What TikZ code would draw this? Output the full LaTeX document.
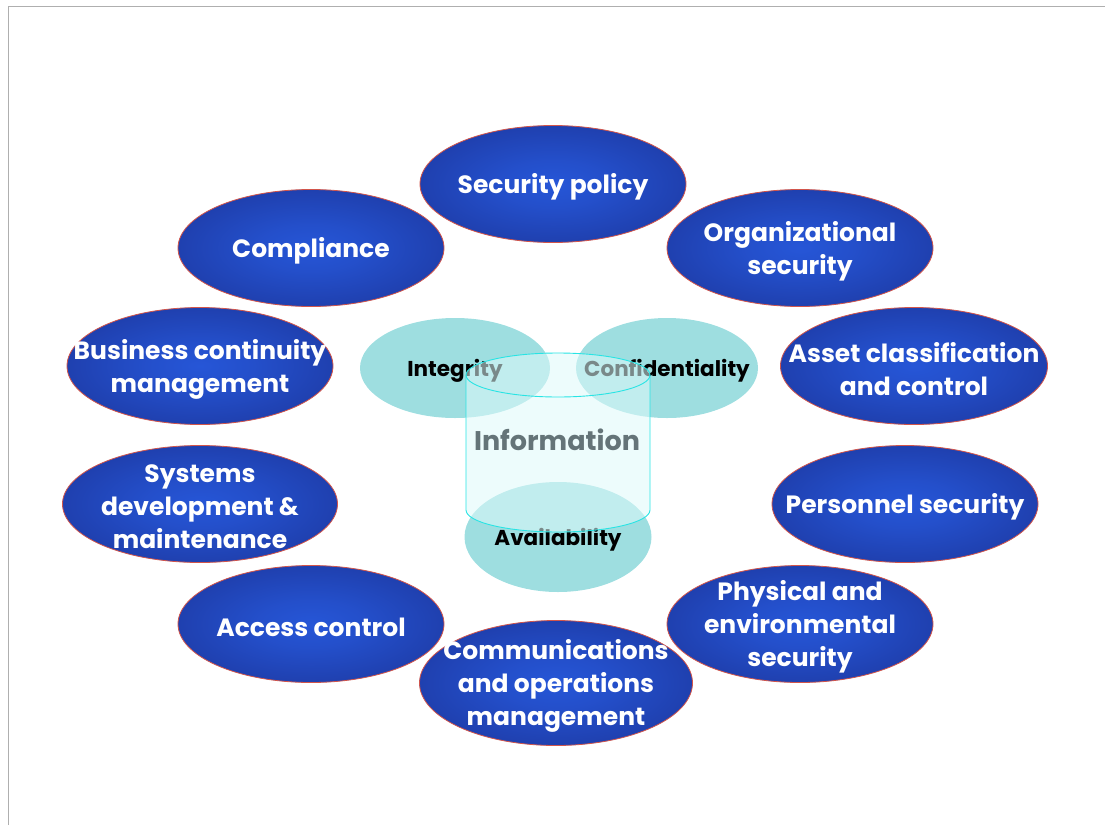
\documentclass[tikz,border=0pt]{standalone}
\usepackage{fontspec}
\setmainfont{Poppins}
\usetikzlibrary{shapes.geometric}

\definecolor{topicin}{RGB}{38,86,215}
\definecolor{topicout}{RGB}{20,28,110}
\definecolor{topicrim}{RGB}{210,85,75}
\definecolor{pillar}{RGB}{158,222,224}
\definecolor{cylfillc}{RGB}{222,250,250}
\definecolor{cylline}{RGB}{40,228,228}
\definecolor{infotext}{RGB}{100,116,120}
\definecolor{framegray}{RGB}{175,175,175}

\pgfdeclareradialshading{topicshade}{\pgfpoint{0bp}{0bp}}{%
  color(0bp)=(topicin); color(10bp)=(topicin!88!topicout);
  color(32bp)=(topicin!50!topicout); color(50bp)=(topicout)}

\begin{document}
\begin{tikzpicture}[
    x=1pt, y=-1pt,
    topic/.style={ellipse, draw=topicrim, line width=0.8pt, shading=topicshade,
        inner sep=0pt, minimum width=266pt, minimum height=117pt},
    topictext/.style={align=center, text=white, inner sep=0pt, yshift=-3pt,
        font=\bfseries\fontsize{25}{33}\selectfont},
    pillar/.style={ellipse, fill=pillar, inner sep=0pt},
    pillartext/.style={text=black, inner sep=0pt, yshift=-3pt,
        font=\bfseries\fontsize{21.5}{24}\selectfont},
    cylbody/.style={fill=cylfillc, fill opacity=0.55},
    cylrim/.style={draw=cylline, line width=0.9pt},
    frame/.style={draw=framegray, line width=1pt},
]
    \useasboundingbox (0,0) rectangle (1105,825);

    % Page frame
    \draw[frame] (8,825) -- (8,6) -- (1105,6);

    % Outer ring of controls
    \node[topic] (policy) at (553,184) {};
    \node[topictext] at (policy) {Security policy};

    \node[topic] (org) at (800,248) {};
    \node[topictext] at (org) {Organizational\\security};

    \node[topic] (compliance) at (311,248) {};
    \node[topictext] at (compliance) {Compliance};

    \node[topic] (continuity) at (200,366) {};
    \node[topictext] at (continuity) {Business continuity\\management};

    \node[topic, minimum width=267pt] (asset) at (914,366) {};
    \node[topictext] at (asset) {Asset classification\\and control};

    \node[topic, minimum width=275pt] (sysdev) at (200,504) {};
    \node[topictext] at (sysdev) {Systems\\development \&\\maintenance};

    \node[topic] (personnel) at (905,504) {};
    \node[topictext] at (personnel) {Personnel security};

    \node[topic] (access) at (311,624) {};
    \node[topictext] at (access) {Access control};

    \node[topic] (physical) at (800,624) {};
    \node[topictext] at (physical) {Physical and\\environmental\\security};

    \node[topic, minimum width=273pt, minimum height=125pt] (comms) at (556,683) {};
    \node[topictext] at (comms) {Communications\\and operations\\management};

    % Three pillars
    \node[pillar, minimum width=190pt, minimum height=100pt] (integrity) at (455,368) {};
    \node[pillartext] at (integrity) {Integrity};

    \node[pillar, minimum width=182pt, minimum height=100pt] (confid) at (667,368) {};
    \node[pillartext] at (confid) {Confidentiality};

    \node[pillar, minimum width=187pt, minimum height=110pt] (avail) at (558,537) {};
    \node[pillartext] at (avail) {Availability};

    % Information cylinder
    \path[cylbody] (466,375) -- (466,510)
        arc[start angle=180, end angle=0, x radius=92, y radius=22]
        -- (650,375)
        arc[start angle=0, end angle=-180, x radius=92, y radius=22] -- cycle;
    \draw[cylrim] (466,375) -- (466,510)
        arc[start angle=180, end angle=0, x radius=92, y radius=22] -- (650,375);
    \draw[cylrim] (558,375) ellipse[x radius=92, y radius=22];
    \node[text=infotext, font=\bfseries\fontsize{27}{30}\selectfont] (info) at (557,440) {Information};
\end{tikzpicture}
\end{document}
